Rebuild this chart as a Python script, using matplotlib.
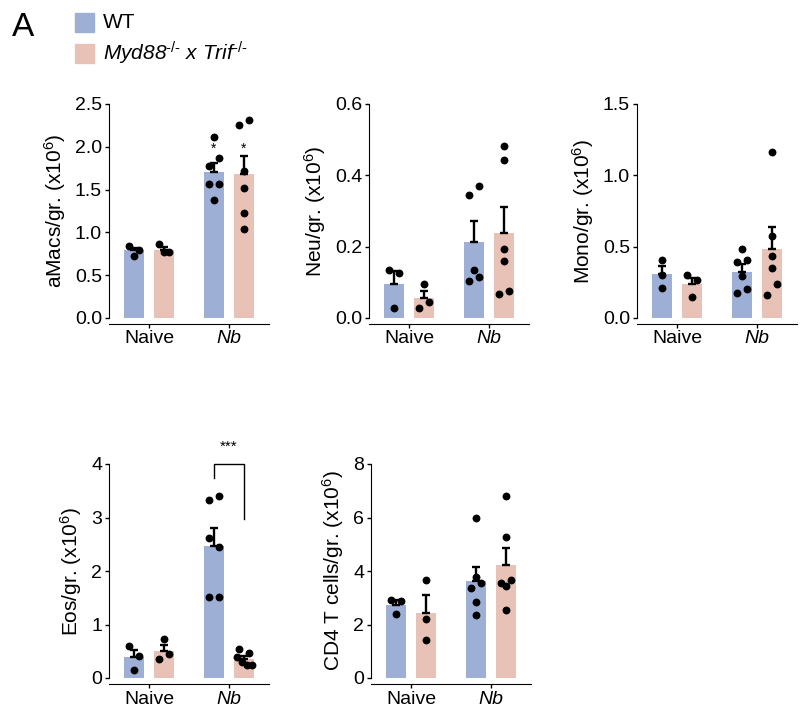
import matplotlib
matplotlib.use('Agg')
import matplotlib.pyplot as plt
from matplotlib.patches import Rectangle
import numpy as np

plt.rcParams['font.family'] = 'Liberation Sans'
plt.rcParams['mathtext.fontset'] = 'custom'
plt.rcParams['mathtext.rm'] = 'Liberation Sans'
plt.rcParams['mathtext.it'] = 'Liberation Sans:italic'

groups = ['Naive', 'Nb']

# per-mouse values, [naive, Nb]
amacs_wt = [[0.84, 0.73, 0.80], [2.11, 1.77, 1.87, 1.56, 1.56, 1.38]]
amacs_ko = [[0.86, 0.77, 0.77], [2.26, 2.31, 1.72, 1.52, 1.23, 1.04]]
neu_wt = [[0.135, 0.126, 0.028], [0.345, 0.371, 0.135, 0.105, 0.114]]
neu_ko = [[0.028, 0.046, 0.096], [0.481, 0.444, 0.193, 0.161, 0.068, 0.075]]
mono_wt = [[0.409, 0.302, 0.212], [0.481, 0.395, 0.409, 0.293, 0.174, 0.202]]
mono_ko = [[0.298, 0.265, 0.144], [1.165, 0.572, 0.433, 0.351, 0.163, 0.235]]
eos_wt = [[0.59, 0.42, 0.15], [3.32, 3.41, 2.61, 2.44, 1.52, 1.52]]
eos_ko = [[0.36, 0.44, 0.73], [0.54, 0.47, 0.39, 0.30, 0.24, 0.24]]
cd4_wt = [[2.93, 2.88, 2.38], [5.97, 3.76, 3.35, 3.56, 2.85, 2.37]]
cd4_ko = [[3.67, 2.22, 1.42], [6.82, 5.26, 3.56, 3.43, 3.66, 2.56]]

c_wt = '#9EAFD6'
c_ko = '#E8C2B6'


def swarm(ax, x0, vals):
    # prism-like: points closer than ~10 px vertically share a row
    ys = ax.transData.transform([(x0, v) for v in vals])[:, 1]
    px_x = ax.transData.transform((1, 0))[0] - ax.transData.transform((0, 0))[0]
    rows = []
    for i in np.argsort(vals, kind='stable'):
        if rows and ys[i] - ys[rows[-1][0]] < 10.5:
            rows[-1].append(i)
        else:
            rows.append([i])
    xs = np.full(len(vals), float(x0))
    for row in rows:
        row = sorted(row)
        n = len(row)
        step = 10 if n == 2 else 5
        for k, i in enumerate(row):
            xs[i] = x0 + (k - (n - 1) / 2) * step / px_x
    return xs


fig = plt.figure(figsize=(8, 7.06), dpi=100)
W, H = 800, 706

panels = [
    (109, 318, amacs_wt, amacs_ko, 'aMacs/gr. (x10$^6$)', 2.5, [0, 0.5, 1.0, 1.5, 2.0, 2.5], '%.1f'),
    (369, 318, neu_wt, neu_ko, 'Neu/gr. (x10$^6$)', 0.6, [0, 0.2, 0.4, 0.6], '%.1f'),
    (637, 318, mono_wt, mono_ko, 'Mono/gr. (x10$^6$)', 1.5, [0, 0.5, 1.0, 1.5], '%.1f'),
    (109, 678, eos_wt, eos_ko, 'Eos/gr. (x10$^6$)', 4, [0, 1, 2, 3, 4], '%d'),
    (371, 678, cd4_wt, cd4_ko, 'CD4 T cells/gr. (x10$^6$)', 8, [0, 2, 4, 6, 8], '%d'),
]

axes = []
for left, base, wt, ko, ylab, ymax, yt, fmt in panels:
    ax = fig.add_axes([left / W, (H - base) / H, 160 / W, 214 / H])
    axes.append(ax)
    ax.spines['top'].set_visible(False)
    ax.spines['right'].set_visible(False)
    ax.spines['bottom'].set_position(('outward', 4))
    ax.set_xlim(-0.5, 1.5)
    ax.set_ylim(0, ymax)
    for g in range(2):
        for vals, dx, col in [(wt[g], -0.1875, c_wt), (ko[g], 0.1875, c_ko)]:
            v = np.array(vals)
            m = v.mean()
            sem = v.std(ddof=1) / np.sqrt(len(v))
            ax.bar(g + dx, m, width=0.25, color=col, zorder=1)
            ax.errorbar(g + dx, m, yerr=[[0], [sem]], fmt='none', ecolor='black',
                        elinewidth=1.7, capsize=3, capthick=1.7, zorder=2)
            ax.scatter(swarm(ax, g + dx, vals), vals, s=32, color='black', zorder=3,
                       linewidths=0, clip_on=False)
    ax.tick_params(direction='out', length=3, width=1, pad=2)
    ax.set_yticks(yt)
    ax.set_yticklabels([fmt % t for t in yt], fontsize=14)
    ax.set_xticks([0, 1])
    ax.set_xticklabels(groups, fontsize=14)
    ax.get_xticklabels()[1].set_fontstyle('italic')
    ax.set_ylabel(ylab, fontsize=15, labelpad=5)

# significance marks
axes[0].text(1 - 0.1875, 1.98, '*', ha='center', va='center', fontsize=10)
axes[0].text(1 + 0.1875, 1.98, '*', ha='center', va='center', fontsize=10)
axes[3].plot([1 - 0.1875, 1 - 0.1875, 1 + 0.1875, 1 + 0.1875], [3.73, 4.0, 4.0, 2.97],
             color='black', lw=1, clip_on=False)
axes[3].text(1, 4.33, '***', ha='center', va='center', fontsize=11)

# legend + panel letter
fig.text(12 / W, 1 - 36 / H, 'A', fontsize=24, va='baseline')
fig.add_artist(Rectangle((75 / W, 1 - 32 / H), 19 / W, 19 / H, transform=fig.transFigure, color=c_wt))
fig.add_artist(Rectangle((75 / W, 1 - 63 / H), 19 / W, 19 / H, transform=fig.transFigure, color=c_ko))
fig.text(103 / W, 1 - 22.5 / H, 'WT', fontsize=15, va='center')
fig.text(103 / W, 1 - 53 / H, r'Myd88$^{\text{-/-}}$ x Trif$^{\text{-/-}}$', fontsize=15,
         va='center', fontstyle='italic')

plt.savefig('out.png', dpi=100)
